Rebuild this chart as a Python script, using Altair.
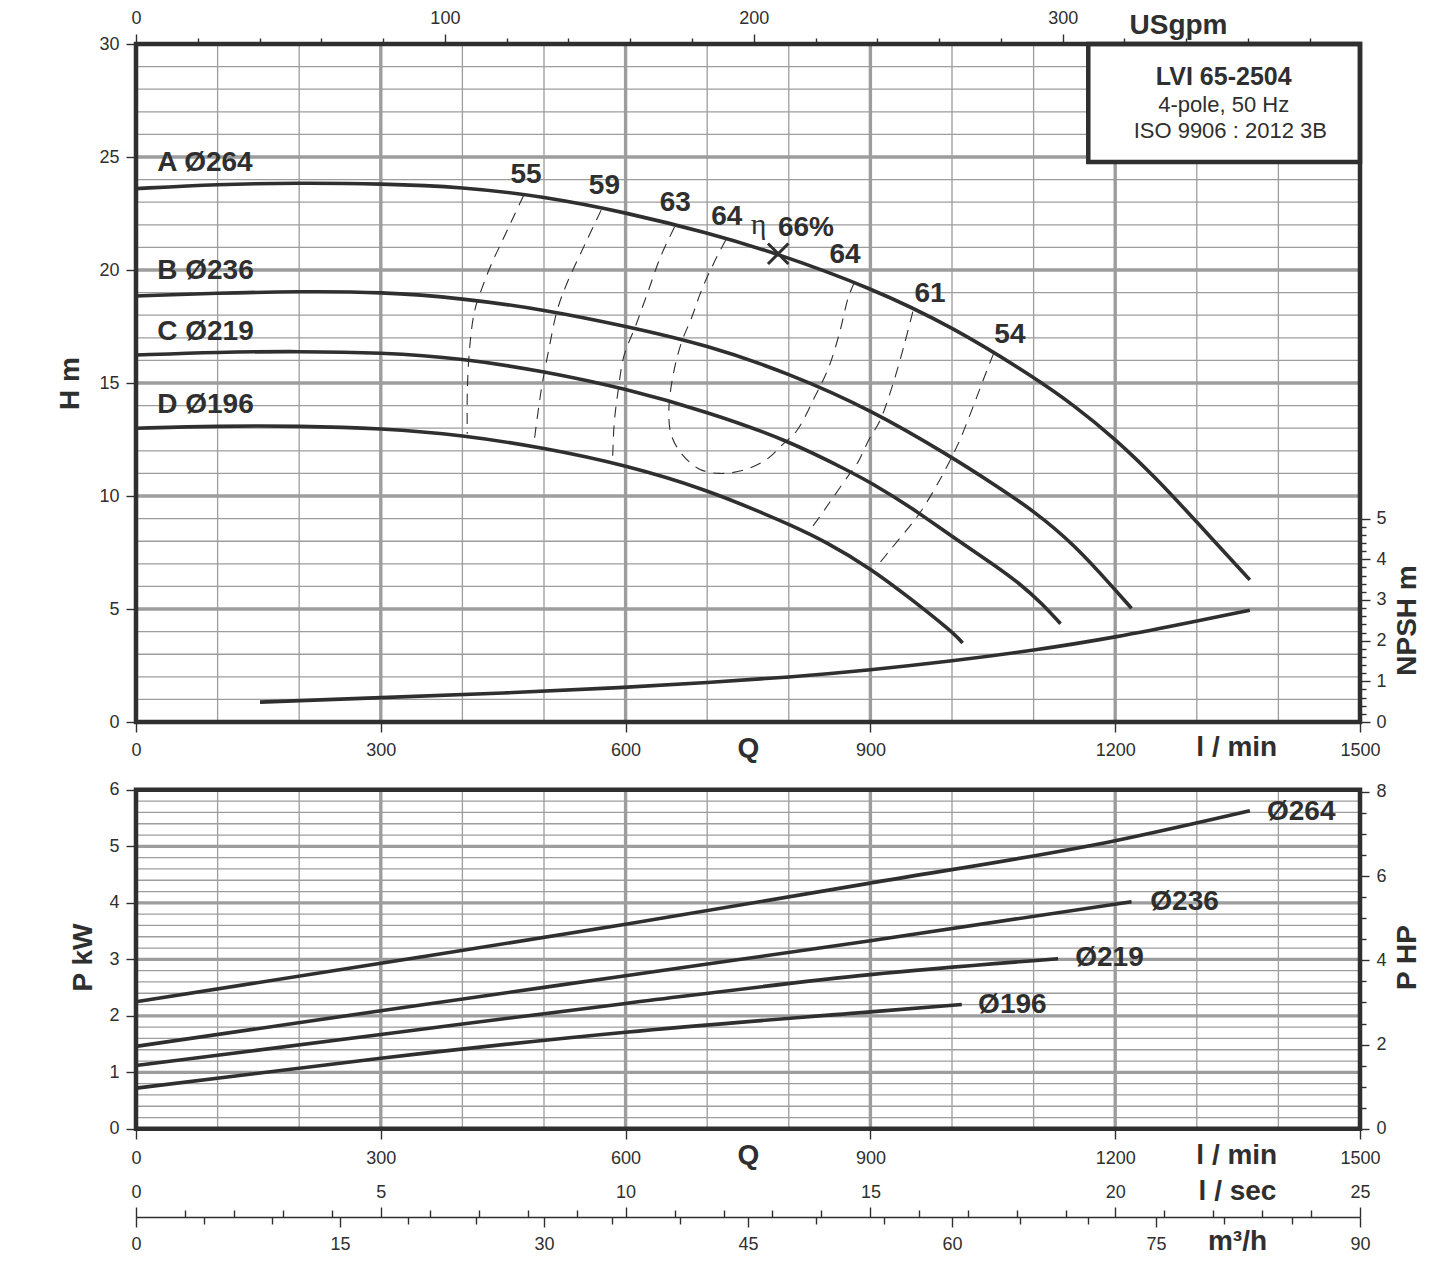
import altair as alt
import pandas as pd

FONT = "Liberation Sans"
INK = "#2f2f2f"
GRID = "#9d9d9d"

# ---------------- values ----------------
# Head curves, Q [l/min] -> H [m]
Q_A = [0, 100, 200, 300, 400, 500, 600, 700, 787, 900, 1000, 1100, 1150, 1200, 1250, 1300, 1365]
H_A = [23.6, 23.8, 23.85, 23.82, 23.68, 23.25, 22.55, 21.65, 20.72, 19.22, 17.5, 15.27, 14.0, 12.53, 10.8, 8.85, 6.29]
Q_B = [0, 100, 200, 300, 400, 500, 600, 700, 800, 900, 1000, 1050, 1100, 1150, 1200, 1220]
H_B = [18.85, 18.98, 19.05, 19.03, 18.75, 18.25, 17.52, 16.68, 15.43, 13.83, 11.72, 10.55, 9.35, 7.85, 5.85, 5.03]
Q_C = [0, 100, 200, 300, 400, 500, 600, 700, 800, 875, 900, 950, 1000, 1050, 1084, 1110, 1133]
H_C = [16.24, 16.37, 16.4, 16.35, 16.09, 15.52, 14.75, 13.73, 12.45, 11.08, 10.6, 9.5, 8.2, 7.0, 6.1, 5.25, 4.35]
Q_D = [0, 100, 200, 300, 400, 500, 600, 700, 765, 800, 846, 900, 949, 1000, 1013]
H_D = [13.0, 13.1, 13.1, 13.0, 12.7, 12.13, 11.37, 10.27, 9.29, 8.75, 7.97, 6.8, 5.47, 4.0, 3.5]

# NPSH curve, Q [l/min] -> NPSH [m]
Q_NPSH = [152, 300, 450, 600, 700, 800, 900, 1000, 1100, 1200, 1300, 1365]
NPSH = [0.49, 0.6, 0.71, 0.85, 0.97, 1.1, 1.28, 1.5, 1.76, 2.08, 2.48, 2.75]

# Iso-efficiency lines (dashed), Q [l/min], H [m]
E55_Q = [475, 462, 449, 436, 424, 415, 409, 406, 406]
E55_H = [23.3, 22.3, 21.3, 20.3, 19.2, 18.2, 16.6, 14.6, 12.75]
E59_Q = [570, 551, 528, 516, 506, 498, 493, 487]
E59_H = [22.65, 21.2, 19.4, 18.2, 16.5, 15.0, 13.8, 12.15]
E63_Q = [660, 643, 628, 613, 598, 591, 586, 584]
E63_H = [21.9, 20.6, 19.1, 17.6, 16.2, 14.7, 13.2, 11.5]
E64_Q = [723, 708, 693, 681, 668, 658, 653, 656, 668, 690, 715, 745, 772, 793, 810, 832, 849, 862, 873, 881]
E64_H = [21.35, 20.3, 19.1, 17.9, 16.75, 15.3, 13.8, 12.7, 11.9, 11.2, 11.0, 11.15, 11.6, 12.3, 12.9, 14.4, 15.7, 17.2, 18.8, 19.5]
E61_Q = [952, 942, 928, 912, 898, 884, 873, 852, 838, 824]
E61_H = [18.16, 16.76, 15.0, 13.36, 12.48, 11.45, 10.9, 9.82, 9.09, 8.4]
E54_Q = [1051, 1043, 1029, 1013, 1004, 985, 963, 951, 924, 906]
E54_H = [16.31, 15.58, 14.25, 12.77, 12.04, 10.71, 9.38, 8.79, 7.6, 6.8]

# Power curves, Q [l/min] -> P [kW]
Q_P264 = [0, 300, 600, 900, 1200, 1365]
P_264 = [2.25, 2.93, 3.62, 4.35, 5.1, 5.63]
Q_P236 = [0, 300, 600, 900, 1220]
P_236 = [1.46, 2.09, 2.71, 3.33, 4.02]
Q_P219 = [0, 300, 600, 900, 1130]
P_219 = [1.12, 1.67, 2.22, 2.73, 3.01]
Q_P196 = [0, 300, 600, 900, 1012]
P_196 = [0.72, 1.25, 1.71, 2.07, 2.2]

# Labels
HEAD_LBL = ["A Ø264", "B Ø236", "C Ø219", "D Ø196"]
HEAD_LBL_Q = [26, 26, 26, 26]
HEAD_LBL_H = [24.73, 19.96, 17.26, 14.03]
EFF_LBL = ["55", "59", "63", "64", "64", "61", "54"]
EFF_LBL_Q = [478, 574, 661, 724, 869, 973, 1071]
EFF_LBL_H = [24.2, 23.72, 22.95, 22.36, 20.66, 18.94, 17.12]
BEP_Q = [787]
BEP_H = [20.72]
ETA_Q = [763]
ETA_H = [22.0]
BEP_LBL = ["66%"]
BEP_LBL_Q = [821]
BEP_LBL_H = [21.84]
POW_LBL = ["Ø264", "Ø236", "Ø219", "Ø196"]
POW_LBL_Q = [1386, 1243, 1151, 1032]
POW_LBL_P = [5.61, 4.02, 3.03, 2.19]
INFO_LINES = ["LVI 65-2504", "4-pole, 50 Hz", "ISO 9906 : 2012 3B"]
INFO_Q = [1333, 1333, 1341]
INFO_H = [28.54, 27.3, 26.15]
BOX_Q = [1167, 1500]
BOX_H = [24.78, 30]
UNIT_LBL = ["l / min"]
UNIT_Q = [1349]
UNIT_H = [-1.15]
UNIT_P = [-0.48]

# Axis ticks and grid values (each in its own unit)
Q_TICKS = [0, 300, 600, 900, 1200, 1500]
Q_GRID_MAJOR = [300, 600, 900, 1200]
Q_GRID_MINOR = [100, 200, 400, 500, 700, 800, 1000, 1100, 1300, 1400]
H_TICKS = [0, 5, 10, 15, 20, 25, 30]
H_GRID_MAJOR = [5, 10, 15, 20, 25]
H_GRID_MINOR = [1, 2, 3, 4, 6, 7, 8, 9, 11, 12, 13, 14, 16, 17, 18, 19, 21, 22, 23, 24, 26, 27, 28, 29]
NPSH_TICKS = [0, 1, 2, 3, 4, 5]
NPSH_MINOR = [0.2, 0.4, 0.6, 0.8, 1.2, 1.4, 1.6, 1.8, 2.2, 2.4, 2.6, 2.8, 3.2, 3.4, 3.6, 3.8, 4.2, 4.4, 4.6, 4.8]
USGPM_TICKS = [0, 100, 200, 300]
USGPM_MINOR = [20, 40, 60, 80, 120, 140, 160, 180, 220, 240, 260, 280, 320, 340, 360, 380]
P_TICKS = [0, 1, 2, 3, 4, 5, 6]
P_GRID_MAJOR = [1, 2, 3, 4, 5]
P_GRID_MINOR = [0.2, 0.4, 0.6, 0.8, 1.2, 1.4, 1.6, 1.8, 2.2, 2.4, 2.6, 2.8, 3.2, 3.4, 3.6, 3.8,
                4.2, 4.4, 4.6, 4.8, 5.2, 5.4, 5.6, 5.8]
HP_TICKS = [0, 2, 4, 6, 8]
HP_MINOR = [0.5, 1, 1.5, 2.5, 3, 3.5, 4.5, 5, 5.5, 6.5, 7, 7.5]
LSEC_TICKS = [0, 5, 10, 15, 20, 25]
LSEC_MINOR = [1, 2, 3, 4, 6, 7, 8, 9, 11, 12, 13, 14, 16, 17, 18, 19, 21, 22, 23, 24]
M3H_TICKS = [0, 15, 30, 45, 60, 75, 90]
M3H_MINOR = [5, 10, 20, 25, 35, 40, 50, 55, 65, 70, 80, 85]

# ---------------- unit conversions / shared-scale layout ----------------
LMIN_PER_USGPM = 3.78541
LMIN_PER_LSEC = 60.0
LMIN_PER_M3H = 1000.0 / 60.0
KW_PER_HP = 1 / 1.34102
NPSH_GAIN = 1.8        # 1 m NPSH spans 1.8 m of the head scale
P_BASE = -18.0         # power panel: 0 kW sits here on the shared vertical scale
P_GAIN = 2.5           # 1 kW spans 2.5 units of the shared vertical scale
P_TOP = P_BASE + 6 * P_GAIN
Y_MIN = -21.9          # line of the l/sec & m3/h scale
Q_MAX = 1500
H_MAX = 30

W = 1224
HGT = 1173

XS = dict(domain=[0, Q_MAX], nice=False, zero=False)
YS = dict(domain=[Y_MIN, H_MAX], nice=False, zero=False)


def p2y(vals):
    return [P_BASE + P_GAIN * v for v in vals]


# ---------------- helpers ----------------
def ax(**kw):
    base = dict(domain=False, grid=False, tickColor=INK, tickWidth=1.4,
                labelColor=INK, labelFont=FONT, labelFontSize=18, labelFlush=False,
                labelOverlap=False, format="d", titleColor=INK, titleFont=FONT,
                titleFontSize=28, titleFontWeight="bold")
    base.update(kw)
    return alt.Axis(**base)


def minor_ax(size, **kw):
    return ax(labels=False, title=None, tickSize=size, **kw)


def X(field="q", axis=None):
    return alt.X(f"{field}:Q", scale=alt.Scale(**XS), axis=axis)


def Y(field="y", axis=None):
    return alt.Y(f"{field}:Q", scale=alt.Scale(**YS), axis=axis)


def long(pairs, conv=lambda v: v):
    rows = []
    for name, qs, ys in pairs:
        for i, (q, y) in enumerate(zip(qs, ys)):
            rows.append({"c": name, "i": i, "q": q, "y": conv(y)})
    return pd.DataFrame(rows)


def vrules(qs, lo, hi, width):
    df = pd.DataFrame({"q": qs, "y": [lo] * len(qs), "y2": [hi] * len(qs)})
    return alt.Chart(df).mark_rule(color=GRID, strokeWidth=width).encode(x=X(), y=Y(), y2="y2:Q")


def hrules(ys, width):
    df = pd.DataFrame({"y": ys, "q": [0] * len(ys), "q2": [Q_MAX] * len(ys)})
    return alt.Chart(df).mark_rule(color=GRID, strokeWidth=width).encode(x=X(), x2="q2:Q", y=Y())


def axis_x(qvals, axis):
    df = pd.DataFrame({"q": qvals, "y": [0] * len(qvals)})
    return alt.Chart(df).mark_point(opacity=0).encode(x=X(axis=axis), y=Y())


def axis_y(yvals, axis):
    df = pd.DataFrame({"y": yvals, "q": [0] * len(yvals)})
    return alt.Chart(df).mark_point(opacity=0).encode(x=X(), y=Y(axis=axis))


def texts(lbls, qs, ys, size, weight="bold", align="center", font=FONT):
    df = pd.DataFrame({"t": lbls, "q": qs, "y": ys})
    return alt.Chart(df).mark_text(font=font, fontSize=size, fontWeight=weight, color=INK,
                                   align=align, baseline="middle").encode(x=X(), y=Y(), text="t:N")


def frame(q0, q1, y0, y1, fill, width):
    df = pd.DataFrame({"q": [q0], "q2": [q1], "y": [y0], "y2": [y1]})
    return alt.Chart(df).mark_rect(fill=fill, fillOpacity=1 if fill == "white" else 0,
                                   stroke=INK, strokeWidth=width).encode(x=X(), x2="q2:Q", y=Y(), y2="y2:Q")


# ---------------- axes ----------------
title_mid = dict(titleAlign="center", titleBaseline="middle")
h_axis = ax(orient="left", values=H_TICKS, tickSize=10, labelPadding=7, title="H m",
            titleX=-66, titleY=339, titleAngle=270, **title_mid)
p_axis = ax(orient="left", values=p2y(P_TICKS), tickSize=10, labelPadding=7,
            labelExpr=f"format((datum.value - ({P_BASE})) / {P_GAIN}, '.0f')", title="P kW",
            titleX=-53, titleY=913, titleAngle=270, **title_mid)
npsh_axis = ax(orient="right", values=[v * NPSH_GAIN for v in NPSH_TICKS], tickSize=10, labelPadding=6,
               labelExpr=f"format(datum.value / {NPSH_GAIN}, '.0f')", title="NPSH m",
               titleX=47, titleY=576, titleAngle=270, **title_mid)
npsh_minor = minor_ax(6, orient="right", values=[v * NPSH_GAIN for v in NPSH_MINOR])
hp_axis = ax(orient="right", values=p2y([v * KW_PER_HP for v in HP_TICKS]), tickSize=9, labelPadding=7,
             labelExpr=f"format((datum.value - ({P_BASE})) / {P_GAIN} / {KW_PER_HP}, '.0f')",
             title="P HP", titleX=47, titleY=913, titleAngle=270, **title_mid)
hp_minor = minor_ax(6, orient="right", values=p2y([v * KW_PER_HP for v in HP_MINOR]))

q_axis_top = ax(orient="bottom", offset=-495, values=Q_TICKS, tickSize=10, labelPadding=9,
                title="Q", titleX=612, titleY=26, **title_mid)
q_axis_bot = ax(orient="bottom", offset=-88, values=Q_TICKS, tickSize=10, labelPadding=10,
                title="Q", titleX=612, titleY=26, **title_mid)
g_axis = ax(orient="top", values=[v * LMIN_PER_USGPM for v in USGPM_TICKS], tickSize=10, labelPadding=7,
            labelExpr=f"format(datum.value / {LMIN_PER_USGPM}, '.0f')", title="USgpm",
            titleX=1042, titleY=-19, **title_mid)
g_minor = minor_ax(6, orient="top", values=[v * LMIN_PER_USGPM for v in USGPM_MINOR])
lsec_axis = ax(orient="top", offset=-HGT, values=[v * LMIN_PER_LSEC for v in LSEC_TICKS],
               tickSize=10, labelPadding=6, labelExpr=f"format(datum.value / {LMIN_PER_LSEC}, '.0f')",
               title="l / sec", titleX=1101, titleY=-26, **title_mid)
lsec_minor = minor_ax(7, orient="top", offset=-HGT, values=[v * LMIN_PER_LSEC for v in LSEC_MINOR])
m3h_axis = ax(orient="bottom", values=[v * LMIN_PER_M3H for v in M3H_TICKS], tickSize=10, labelPadding=8,
              labelExpr=f"format(datum.value / {LMIN_PER_M3H}, '.0f')", domain=True,
              domainColor=INK, domainWidth=1.5, title="m³/h", titleX=1101, titleY=24, **title_mid)
m3h_minor = minor_ax(7, orient="bottom", values=[v * LMIN_PER_M3H for v in M3H_MINOR])

# ---------------- data frames ----------------
head_df = long([("A", Q_A, H_A), ("B", Q_B, H_B), ("C", Q_C, H_C), ("D", Q_D, H_D)])
eff_df = long([("55", E55_Q, E55_H), ("59", E59_Q, E59_H), ("63", E63_Q, E63_H),
               ("64", E64_Q, E64_H), ("61", E61_Q, E61_H), ("54", E54_Q, E54_H)])
npsh_df = long([("n", Q_NPSH, NPSH)], lambda v: v * NPSH_GAIN)
pow_df = long([("264", Q_P264, P_264), ("236", Q_P236, P_236), ("219", Q_P219, P_219),
               ("196", Q_P196, P_196)], lambda v: P_BASE + P_GAIN * v)

layers = [
    # grids, head panel
    vrules(Q_GRID_MINOR, 0, H_MAX, 1.3),
    hrules(H_GRID_MINOR, 1.3),
    vrules(Q_GRID_MAJOR, 0, H_MAX, 3.4),
    hrules(H_GRID_MAJOR, 3.4),
    # grids, power panel
    vrules(Q_GRID_MINOR, P_BASE, P_TOP, 1.3),
    hrules(p2y(P_GRID_MINOR), 1.3),
    vrules(Q_GRID_MAJOR, P_BASE, P_TOP, 3.4),
    hrules(p2y(P_GRID_MAJOR), 3.4),
    # info box and panel frames
    frame(BOX_Q[0], BOX_Q[1], BOX_H[0], BOX_H[1], "white", 4.5),
    frame(0, Q_MAX, 0, H_MAX, "none", 4.5),
    frame(0, Q_MAX, P_BASE, P_TOP, "none", 4.5),
    # curves
    alt.Chart(eff_df).mark_line(color=INK, strokeWidth=1.1, strokeDash=[11, 8], interpolate="catmull-rom")
    .encode(x=X(), y=Y(), detail="c:N", order="i:Q"),
    alt.Chart(head_df).mark_line(color=INK, strokeWidth=3.6, interpolate="basis")
    .encode(x=X(axis=q_axis_top), y=Y(axis=h_axis), detail="c:N"),
    alt.Chart(npsh_df).mark_line(color=INK, strokeWidth=3.6, interpolate="basis")
    .encode(x=X(axis=q_axis_bot), y=Y(axis=npsh_axis)),
    alt.Chart(pow_df).mark_line(color=INK, strokeWidth=3.6, interpolate="monotone")
    .encode(x=X(axis=m3h_axis), y=Y(axis=p_axis), detail="c:N"),
    # extra axes
    axis_y([v * NPSH_GAIN for v in NPSH_MINOR], npsh_minor),
    axis_y(p2y([v * KW_PER_HP for v in HP_TICKS]), hp_axis),
    axis_y(p2y([v * KW_PER_HP for v in HP_MINOR]), hp_minor),
    axis_x([v * LMIN_PER_USGPM for v in USGPM_TICKS], g_axis),
    axis_x([v * LMIN_PER_USGPM for v in USGPM_MINOR], g_minor),
    axis_x([v * LMIN_PER_LSEC for v in LSEC_TICKS], lsec_axis),
    axis_x([v * LMIN_PER_LSEC for v in LSEC_MINOR], lsec_minor),
    axis_x([v * LMIN_PER_M3H for v in M3H_MINOR], m3h_minor),
    # labels
    texts(HEAD_LBL, HEAD_LBL_Q, HEAD_LBL_H, 28, align="left"),
    texts(EFF_LBL, EFF_LBL_Q, EFF_LBL_H, 28),
    texts(["η"], ETA_Q, ETA_H, 30, weight="normal", font="Liberation Serif"),
    texts(BEP_LBL, BEP_LBL_Q, BEP_LBL_H, 28),
    alt.Chart(pd.DataFrame({"q": BEP_Q, "y": BEP_H}))
    .mark_point(shape="M-1,-1L1,1M-1,1L1,-1", size=420, filled=False, color=INK, strokeWidth=3, opacity=1)
    .encode(x=X(), y=Y()),
    texts(INFO_LINES[:1], INFO_Q[:1], INFO_H[:1], 25),
    texts(INFO_LINES[1:], INFO_Q[1:], INFO_H[1:], 22, weight="normal"),
    texts(UNIT_LBL, UNIT_Q, UNIT_H, 28),
    texts(UNIT_LBL, UNIT_Q, p2y(UNIT_P), 28),
    texts(POW_LBL, POW_LBL_Q, p2y(POW_LBL_P), 28, align="left"),
]

chart = (alt.layer(*layers)
         .resolve_axis(x="independent", y="independent")
         .properties(width=W, height=HGT, padding={"left": 48, "top": 1, "right": 0, "bottom": 0})
         .configure(font=FONT)
         .configure_view(strokeWidth=0))

chart.save("out.html", embed_options={"renderer": "svg", "actions": False})
